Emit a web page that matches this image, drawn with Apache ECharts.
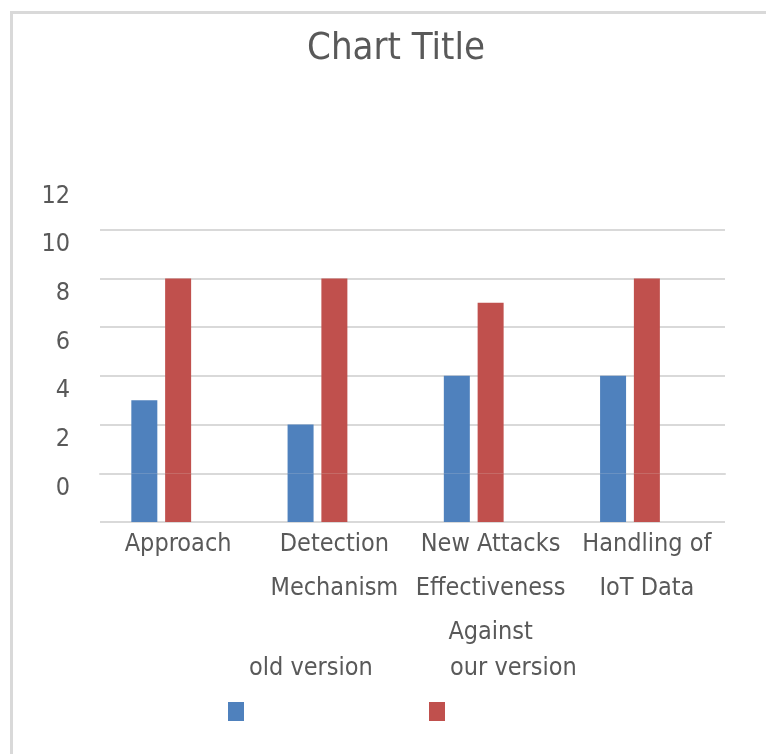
<!DOCTYPE html>
<html>
<head>
<meta charset="utf-8">
<script src="https://cdn.jsdelivr.net/npm/echarts@6/dist/echarts.min.js"></script>
<style>
html,body{margin:0;padding:0;background:#fff;}
#chart{width:766px;height:754px;}
</style>
</head>
<body>
<div id="chart"></div>
<script>
const categories = ['Approach', 'Detection\nMechanism', 'New Attacks\nEffectiveness\nAgainst', 'Handling of\nIoT Data'];
const oldVersion = [3, 2, 4, 4];
const ourVersion = [8, 8, 7, 8];
const emptySeries = [null, null, null, null];
const barBase = [-2, -2, -2, -2];
const seriesNames = ['old version', 'our version'];
const yMin = -2, yMax = 12, yStep = 2;

const FONT = '"Liberation Sans Narrow", "DejaVu Sans Condensed", Roboto, sans-serif';
const TXT = '#595959';
const GRID = '#d9d9d9';
const BLUE = '#4f81bd';
const RED = '#c0504d';

const chart = echarts.init(document.getElementById('chart'), null, {renderer: 'canvas'});
const legendCommon = {
  itemWidth: 16, itemHeight: 19, icon: 'rect', top: 642,
  formatter: name => name + '\n\n',
  textStyle: {fontFamily: FONT, fontSize: 25, lineHeight: 43, color: TXT}
};
chart.setOption({
  animation: false,
  backgroundColor: '#ffffff',
  title: {
    text: 'Chart Title',
    left: 302,
    top: 25,
    textStyle: {fontFamily: FONT, fontSize: 38, fontWeight: 'normal', color: TXT}
  },
  graphic: [
    {type: 'line', shape: {x1: 10, y1: 12.5, x2: 766, y2: 12.5}, style: {stroke: GRID, lineWidth: 3}},
    {type: 'line', shape: {x1: 11.5, y1: 11, x2: 11.5, y2: 754}, style: {stroke: GRID, lineWidth: 3}}
  ],
  legend: [
    Object.assign({data: [seriesNames[0]], left: 223}, legendCommon),
    Object.assign({data: [seriesNames[1]], left: 424}, legendCommon)
  ],
  grid: {left: 100, right: 41, top: 181, bottom: 232, containLabel: false},
  xAxis: {
    type: 'category',
    data: categories,
    axisLine: {show: true, lineStyle: {color: GRID, width: 2}},
    axisTick: {show: false},
    axisLabel: {
      interval: 0, margin: 0, fontFamily: FONT, fontSize: 25, lineHeight: 44, color: TXT
    }
  },
  yAxis: {
    type: 'value', min: yMin, max: yMax, interval: yStep,
    axisLine: {show: false},
    axisTick: {show: false},
    splitLine: {show: true, lineStyle: {color: [GRID, GRID, GRID, GRID, GRID, GRID, GRID, 'rgba(0,0,0,0)'], width: 2}},
    axisLabel: {
      margin: 30, fontFamily: FONT, fontSize: 25, color: TXT,
      verticalAlign: 'top', lineHeight: 30,
      formatter: v => (v === yMin ? '' : String(v))
    }
  },
  series: [
    {name: seriesNames[0], type: 'bar', stack: 'old', data: oldVersion, barWidth: 26, barGap: '30%', itemStyle: {color: BLUE}},
    {name: seriesNames[0] + ' base', type: 'bar', stack: 'old', data: barBase, barWidth: 26, barGap: '30%', itemStyle: {color: BLUE}},
    {name: seriesNames[1], type: 'bar', stack: 'our', data: ourVersion, barWidth: 26, barGap: '30%', itemStyle: {color: RED}},
    {name: seriesNames[1] + ' base', type: 'bar', stack: 'our', data: barBase, barWidth: 26, barGap: '30%', itemStyle: {color: RED}},
    {name: 'Series3', type: 'bar', stack: 'third', data: emptySeries, barWidth: 26, barGap: '30%', itemStyle: {color: '#9bbb59'}}
  ]
});
</script>
</body>
</html>
